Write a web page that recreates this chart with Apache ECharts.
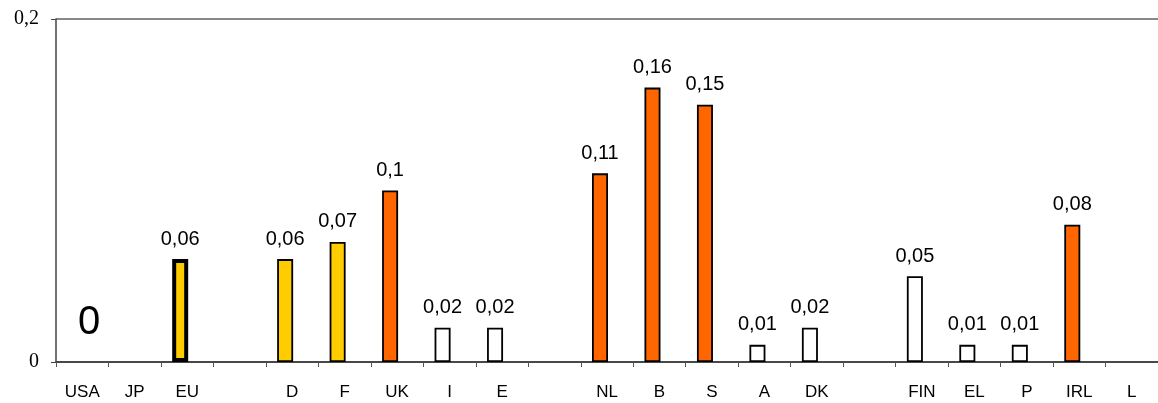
<!DOCTYPE html>
<html><head><meta charset="utf-8">
<script src="https://cdn.jsdelivr.net/npm/echarts@6/dist/echarts.min.js"></script>
<style>html,body{margin:0;padding:0;background:#fff}#c{width:1158px;height:403px}</style>
</head><body><div id="c"></div>
<script>
var categories = ['USA','JP','EU','','D','F','UK','I','E','','NL','B','S','A','DK','','FIN','EL','P','IRL','L'];
var values = [null,null,0.06,null,0.06,0.07,0.1,0.02,0.02,null,0.11,0.16,0.15,0.01,0.02,null,0.05,0.01,0.01,0.08,null];
var groups = ['','','eu','','high','high','top','low','low','','top','top','top','low','low','','low','low','low','top',''];
var yTicks = [0, 0.2];
var usaNote = '0';

var fills = {eu:'#FFCC00', high:'#FFCC00', top:'#FF6600', low:'#FFFFFF'};
var fmt = function(v){ return String(v).replace('.', ','); };

var barData = values.map(function(v,i){
  if (v === null) return null;
  var g = groups[i];
  return {value:v, itemStyle:{color:fills[g], borderColor:'#000', borderWidth: g==='eu'?4:1.8}};
});

var chart = echarts.init(document.getElementById('c'));
chart.setOption({
  animation:false,
  grid:{left:56,right:0,top:19,bottom:41},
  xAxis:{type:'category',data:categories,
    axisLine:{lineStyle:{color:'#333',width:1.5}},
    axisTick:{show:true,alignWithLabel:false,length:5,lineStyle:{color:'#555'}},
    axisLabel:{color:'#000',fontFamily:'Arial, Liberation Sans',fontSize:17,margin:22,interval:0}},
  yAxis:{type:'value',min:yTicks[0],max:yTicks[1],interval:yTicks[1]-yTicks[0],
    axisLine:{show:true,lineStyle:{color:'#444',width:1.5}},
    axisTick:{show:true,length:5,lineStyle:{color:'#444'}},
    splitLine:{show:true,lineStyle:{color:'#888',width:2}},
    axisLabel:{color:'#000',fontFamily:'Times New Roman, Liberation Serif',fontSize:20,margin:17,formatter:fmt}},
  series:[
    {type:'bar',data:barData,barWidth:16,barGap:'0%',
      label:{show:true,position:'top',distance:10,color:'#000',fontFamily:'Arial, Liberation Sans',fontSize:20,formatter:function(p){return fmt(p.value);}}},
    {type:'bar',data:values.map(function(){return null;}),barWidth:14}
  ],
  graphic:[{type:'text',left:78,top:303,style:{text:usaNote,font:'40px Arial, Liberation Sans',fill:'#000'}}]
});
</script></body></html>
